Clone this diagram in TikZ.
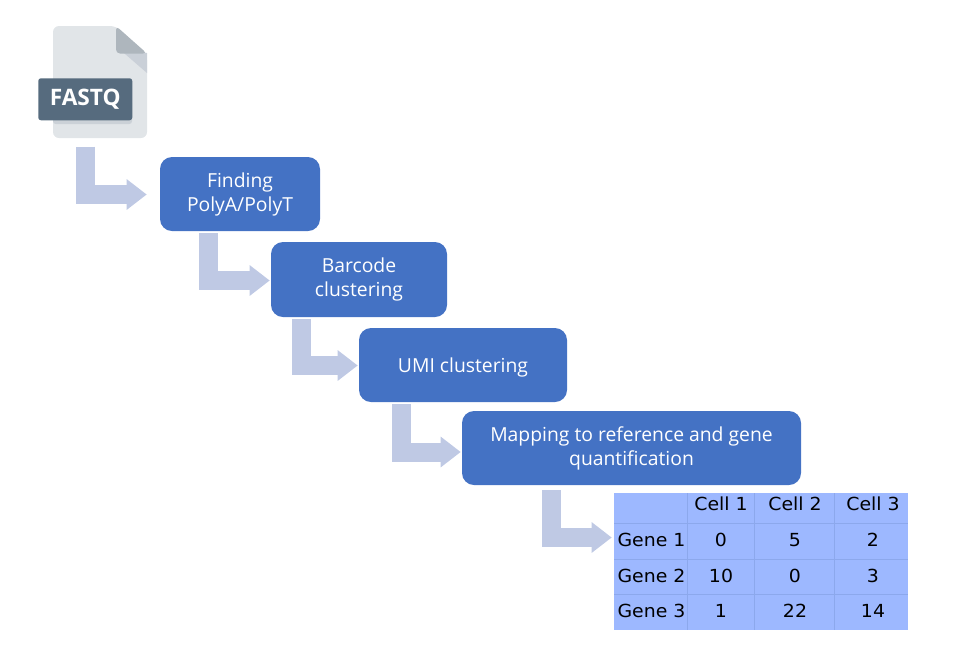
\documentclass[tikz,border=0pt]{standalone}
\usepackage{fontspec}
\setmainfont{Open Sans}
\newfontfamily\tblfont[FakeStretch=1.05]{DejaVu Sans}
\usetikzlibrary{arrows.meta,calc}
\definecolor{boxblue}{HTML}{4472C4}
\definecolor{arrowblue}{HTML}{BFC9E4}
\definecolor{tblfill}{HTML}{9DB8FF}
\definecolor{tblgrid}{HTML}{8CA8EC}
\definecolor{filebody}{HTML}{E1E5E8}
\definecolor{filefold}{HTML}{AEB6BD}
\definecolor{fileshade}{HTML}{CAD0D8}
\definecolor{labelfill}{HTML}{566B7E}
\definecolor{labelshade}{HTML}{CBD1D7}
\tikzset{
  x=0.75pt,y=-0.75pt,
  stepbox/.style={draw=none,fill=boxblue,rounded corners=9pt,text=white,inner sep=0pt,
    font=\fontsize{14.5pt}{18pt}\selectfont,align=center,
    execute at begin node=\rule{0pt}{14pt}},
  elbow/.style={draw=arrowblue,line width=14.25pt,
    -{Triangle[length=15pt,width=22pt,fill=arrowblue]}},
  cell/.style={text=black,inner sep=0pt,font=\tblfont\fontsize{13.5pt}{15pt}\selectfont},
  gridline/.style={draw=tblgrid,line width=0.6pt}
}
\begin{document}
\begin{tikzpicture}
\useasboundingbox (0,0) rectangle (971,669);
% file icon
\fill[filebody,rounded corners=4.5pt] (53,26) -- (116,26) -- (147,54) -- (147,138) -- (53,138) -- cycle;
\fill[fileshade] (117,47) -- (147,73) -- (147,53) -- cycle;
\fill[filefold,rounded corners=3pt] (116,26) -- (147,53.5) -- (116,53.5) -- cycle;
\fill[labelshade,rounded corners=2pt] (53,100) rectangle (132,124);
\node[fill=labelfill,rounded corners=2pt,minimum width=70.5pt,minimum height=31.5pt,inner sep=0pt,
  text=white,font=\fontsize{17pt}{18pt}\selectfont\bfseries,anchor=north west] (fastq) at (38,78) {FASTQ};
% process boxes
\node[stepbox,minimum width=120pt,minimum height=55.5pt] (polya) at (240,194) {Finding\\PolyA/PolyT};
\node[stepbox,minimum width=132pt,minimum height=56.25pt] (barcode) at (359,279.5) {Barcode\\clustering};
\node[stepbox,minimum width=156pt,minimum height=55.5pt] (umi) at (463,365) {UMI clustering};
\node[stepbox,minimum width=254.25pt,minimum height=55.5pt] (mapping) at (631.5,448) {Mapping to reference and gene\\quantification};
% table
\node[fill=tblfill,minimum width=220.5pt,minimum height=102.75pt,inner sep=0pt] (tbl) at (761,561.5) {};
\foreach \lx in {687,754,834} \draw[gridline] (\lx,493) -- (\lx,630);
\foreach \ly in {523,559,594} \draw[gridline] (614,\ly) -- (908,\ly);
\node[cell] (c1) at (721,504) {Cell 1};
\node[cell] (c2) at (795,504) {Cell 2};
\node[cell] (c3) at (873,504) {Cell 3};
\node[cell] (g1) at (651.5,540) {Gene 1};
\node[cell] (g2) at (651.5,575.5) {Gene 2};
\node[cell] (g3) at (651.5,611) {Gene 3};
\node[cell] (a11) at (721,540) {0};
\node[cell] (a12) at (795,540) {5};
\node[cell] (a13) at (873,540) {2};
\node[cell] (a21) at (721,575.5) {10};
\node[cell] (a22) at (795,575.5) {0};
\node[cell] (a23) at (873,575.5) {3};
\node[cell] (a31) at (721,611) {1};
\node[cell] (a32) at (795,611) {22};
\node[cell] (a33) at (873,611) {14};
% connectors: each leaves below one step and ends just short of the next
\draw[elbow] ($(fastq.south west)+(47.5,26)$) |- ($(polya.west)+(-13,0.5)$);
\draw[elbow] ($(polya.south west)+(48.5,2)$) |- ($(barcode.west)+(-1,1)$);
\draw[elbow] ($(barcode.south west)+(30.5,2)$) |- ($(umi.west)+(-1,0.5)$);
\draw[elbow] ($(umi.south west)+(42.5,2)$) |- ($(mapping.west)+(-1,4)$);
\draw[elbow] ($(mapping.south west)+(89.5,5)$) |- ($(tbl.west)+(-2,-24)$);
\end{tikzpicture}
\end{document}
